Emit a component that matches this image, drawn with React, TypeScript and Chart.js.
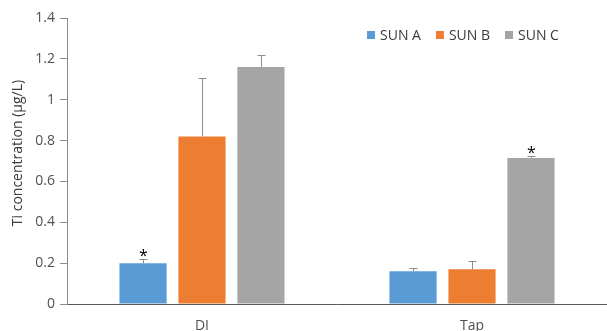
import React, { useEffect, useRef } from "react";
import { Chart, registerables } from "chart.js";

Chart.register(...registerables);

// Ti concentration by water type for the three sunscreens
const categories = ["DI", "Tap"];
const seriesNames = ["SUN A", "SUN B", "SUN C"];
const seriesColors = ["#5B9BD5", "#ED7D31", "#A5A5A5"];
const sunA = [0.2, 0.16];
const sunB = [0.82, 0.17];
const sunC = [1.16, 0.715];
// upper error bars (standard deviation)
const sunAErr = [0.02, 0.018];
const sunBErr = [0.285, 0.04];
const sunCErr = [0.06, 0.01];
// significance markers
const sunAStar = [true, false];
const sunBStar = [false, false];
const sunCStar = [false, true];
const yTicks = [0, 0.2, 0.4, 0.6, 0.8, 1, 1.2, 1.4];
const yTitle = "Ti concentration (µg/L)";

const FONT = "'Open Sans', 'Liberation Sans', sans-serif";

const errors = [sunAErr, sunBErr, sunCErr];
const stars = [sunAStar, sunBStar, sunCStar];

const errorBarPlugin = {
  id: "errorBars",
  afterDatasetsDraw(chart: any) {
    const ctx = chart.ctx;
    const y = chart.scales.y;
    chart.data.datasets.forEach((ds: any, i: number) => {
      const meta = chart.getDatasetMeta(i);
      meta.data.forEach((bar: any, j: number) => {
        const v = ds.data[j];
        const top = y.getPixelForValue(v + errors[i][j]);
        const x = Math.round(bar.x) + 0.5;
        const ty = Math.round(top) + 0.5;
        ctx.save();
        ctx.strokeStyle = "#8C8C8C";
        ctx.lineWidth = 1;
        ctx.beginPath();
        ctx.moveTo(x, bar.y);
        ctx.lineTo(x, ty);
        ctx.moveTo(x - 4, ty);
        ctx.lineTo(x + 4, ty);
        ctx.stroke();
        if (stars[i][j]) {
          ctx.fillStyle = "#000000";
          ctx.font = `16px ${FONT}`;
          ctx.textAlign = "center";
          ctx.textBaseline = "alphabetic";
          ctx.fillText("*", x, top + 2);
        }
        ctx.restore();
      });
    });
  },
};

const legendPlugin = {
  id: "sideLegend",
  afterDraw(chart: any) {
    const ctx = chart.ctx;
    ctx.save();
    ctx.font = `14px ${FONT}`;
    ctx.textBaseline = "middle";
    ctx.textAlign = "left";
    let x = 367;
    const cy = 35;
    chart.data.datasets.forEach((ds: any) => {
      ctx.fillStyle = ds.backgroundColor;
      ctx.fillRect(x, cy - 4, 8, 8);
      ctx.fillStyle = "#3A3A3A";
      ctx.fillText(ds.label, x + 13, cy + 1);
      x += 13 + ctx.measureText(ds.label).width + 15;
    });
    ctx.restore();
  },
};

// vertical axis title, centred a little above the plot's mid-height
const yTitlePlugin = {
  id: "yTitle",
  afterDraw(chart: any) {
    const ctx = chart.ctx;
    ctx.save();
    ctx.translate(18, 153);
    ctx.rotate(-Math.PI / 2);
    ctx.font = `14px ${FONT}`;
    ctx.fillStyle = "#3A3A3A";
    ctx.textAlign = "center";
    ctx.textBaseline = "middle";
    ctx.fillText(yTitle, 0, 0);
    ctx.restore();
  },
};

export default function App() {
  const ref = useRef<HTMLCanvasElement>(null);

  useEffect(() => {
    if (!ref.current) return;
    const chart = new Chart(ref.current, {
      type: "bar",
      data: {
        labels: categories,
        datasets: [sunA, sunB, sunC].map((d, i) => ({
          label: seriesNames[i],
          data: d,
          backgroundColor: seriesColors[i],
          borderWidth: 0,
          categoryPercentage: 0.655,
          barPercentage: 0.8,
        })),
      },
      options: {
        responsive: false,
        animation: false,
        layout: { padding: { top: 18, right: 0, left: 0, bottom: 0 } },
        plugins: {
          legend: { display: false },
          tooltip: { enabled: false },
        },
        scales: {
          x: {
            grid: { display: false, drawTicks: false },
            border: { display: true, color: "#595959", width: 1 },
            ticks: {
              color: "#505050",
              font: { family: FONT, size: 14 },
              padding: 14,
            },
            afterFit(scale: any) {
              scale.height = 27;
            },
          },
          y: {
            min: 0,
            max: 1.4,
            grid: {
              display: true,
              drawOnChartArea: false,
              drawTicks: true,
              tickLength: 7,
              color: "#8C8C8C",
            },
            border: { display: true, color: "#8C8C8C", width: 1 },
            afterBuildTicks(scale: any) {
              scale.ticks = yTicks.map((v) => ({ value: v }));
            },
            ticks: {
              color: "#505050",
              font: { family: FONT, size: 14 },
              padding: 5,
              callback: (v: any) => String(Number(Number(v).toFixed(1))),
            },
            afterFit(scale: any) {
              scale.width = 67;
            },
          },
        },
      },
      plugins: [errorBarPlugin, legendPlugin, yTitlePlugin],
    });
    return () => chart.destroy();
  }, []);

  return (
    <div style={{ position: "absolute", left: 0, top: 0, width: 607, height: 331, background: "#fff" }}>
      <canvas ref={ref} width={607} height={331} />
    </div>
  );
}
